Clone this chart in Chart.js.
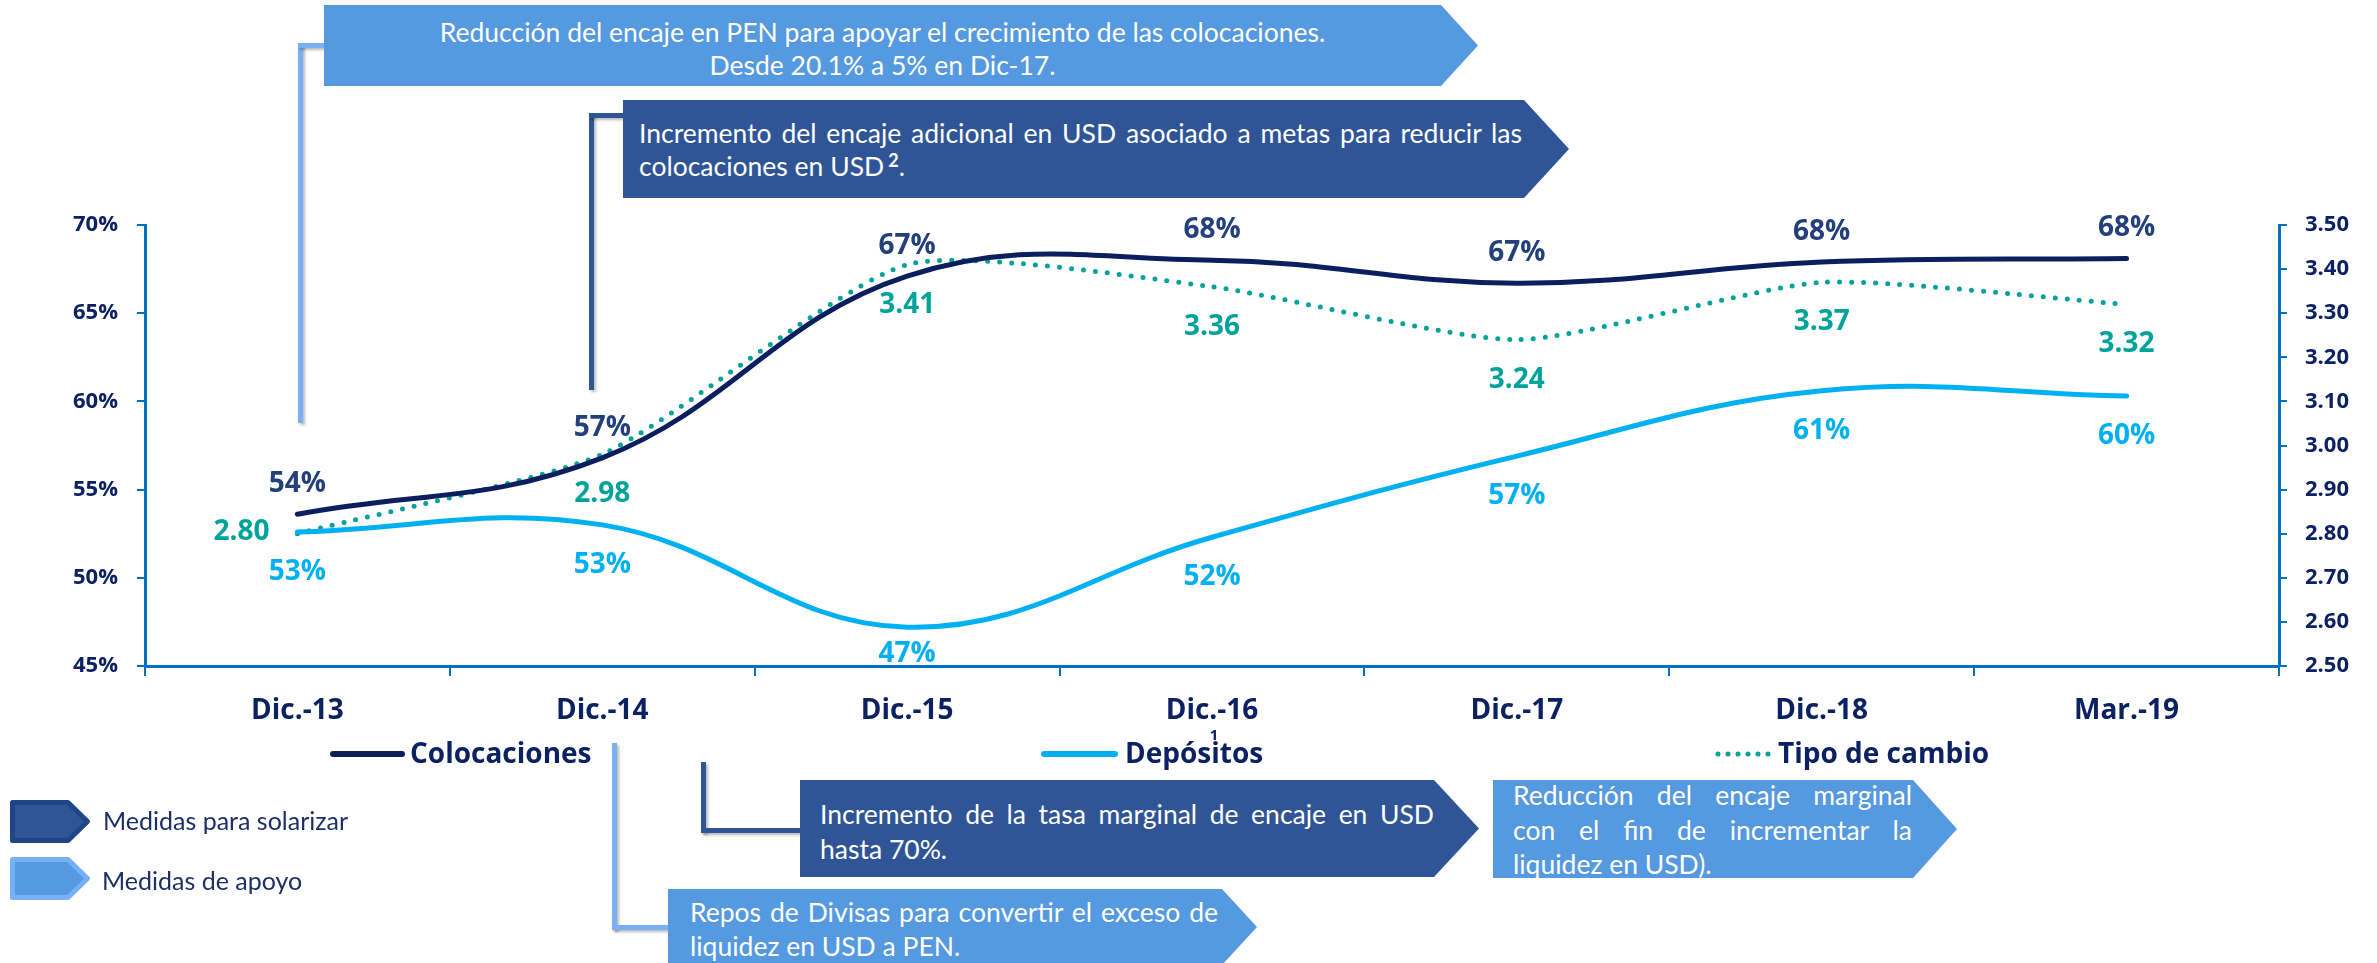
<!DOCTYPE html>
<html>
<head>
<meta charset="utf-8">
<script src="https://cdn.jsdelivr.net/npm/chart.js@4.4.1/dist/chart.umd.min.js"></script>
<style>
html,body{margin:0;padding:0;background:#fff;}
#wrap{position:relative;width:2377px;height:963px;overflow:hidden;background:#fff;}
#c{position:absolute;left:0;top:0;}
.box{position:absolute;color:#fff;font-family:Lato,"Open Sans",sans-serif;font-size:26.5px;box-sizing:border-box;white-space:nowrap;}
.light{background:#5599e0;}
.dark{background:#2f5597;}
.j{text-align:justify;text-align-last:justify;}
.conn{position:absolute;box-shadow:2px 2px 3px rgba(0,0,0,0.28);}
.cl{background:#78b0f5;}
.cd{background:#2f5597;}
.leg{position:absolute;font-family:Lato,"Open Sans",sans-serif;font-size:25px;color:#1c2f66;white-space:nowrap;}
</style>
</head>
<body>
<div id="wrap">
<canvas id="c" width="2377" height="963"></canvas>

<!-- connectors -->
<div class="conn cl" style="left:298px;top:43px;width:5px;height:380px;"></div>
<div class="conn cl" style="left:298px;top:43px;width:27px;height:5px;"></div>
<div class="conn cd" style="left:589px;top:113px;width:5px;height:277px;"></div>
<div class="conn cd" style="left:589px;top:113px;width:35px;height:5px;"></div>
<div class="conn cd" style="left:701px;top:762px;width:5px;height:71px;"></div>
<div class="conn cd" style="left:701px;top:828px;width:100px;height:5px;"></div>
<div class="conn cl" style="left:612px;top:743px;width:5px;height:187px;"></div>
<div class="conn cl" style="left:612px;top:925px;width:58px;height:5px;"></div>

<!-- annotation boxes -->
<div class="box light" style="left:324px;top:5px;width:1154px;height:81px;padding:0 37px 0 0;line-height:33px;padding-top:11px;text-align:center;clip-path:polygon(0 0,calc(100% - 37px) 0,100% 50%,calc(100% - 37px) 100%,0 100%);">
<div>Reducción del encaje en PEN para apoyar el crecimiento de las colocaciones.</div>
<div>Desde 20.1% a 5% en Dic-17.</div>
</div>

<div class="box dark" style="left:623px;top:100px;width:946px;height:98px;padding:17px 47px 0 16px;line-height:33px;clip-path:polygon(0 0,calc(100% - 45px) 0,100% 50%,calc(100% - 45px) 100%,0 100%);">
<div class="j">Incremento del encaje adicional en USD asociado a metas para reducir las</div>
<div>colocaciones en USD<b style="font-size:18px;position:relative;top:-9px;padding-left:4px;">2</b>.</div>
</div>

<div class="box dark" style="left:800px;top:780px;width:679px;height:97px;padding:17px 45px 0 20px;line-height:35px;clip-path:polygon(0 0,calc(100% - 45px) 0,100% 50%,calc(100% - 45px) 100%,0 100%);">
<div class="j">Incremento de la tasa marginal de encaje en USD</div>
<div>hasta 70%.</div>
</div>

<div class="box light" style="left:1493px;top:780px;width:464px;height:98px;padding:0 45px 0 20px;line-height:34.5px;clip-path:polygon(0 0,calc(100% - 44px) 0,100% 50%,calc(100% - 44px) 100%,0 100%);">
<div style="position:relative;top:-2px;">
<div class="j">Reducción del encaje marginal</div>
<div class="j">con el fin de incrementar la</div>
<div>liquidez en USD).</div>
</div>
</div>

<div class="box light" style="left:668px;top:889px;width:589px;height:76px;padding:6px 39px 0 22px;line-height:34px;clip-path:polygon(0 0,calc(100% - 35px) 0,100% 50%,calc(100% - 35px) 100%,0 100%);">
<div class="j">Repos de Divisas para convertir el exceso de</div>
<div>liquidez en USD a PEN.</div>
</div>

<!-- measures legend -->
<svg style="position:absolute;left:8px;top:798px;" width="86" height="48">
<polygon points="4.5,4.5 60,4.5 79.5,23.5 60,42.5 4.5,42.5" fill="#2f5597" stroke="#1f4586" stroke-width="5" stroke-linejoin="round"/>
</svg>
<div class="leg" style="left:103px;top:805px;line-height:30px;">Medidas para solarizar</div>
<svg style="position:absolute;left:8px;top:855px;" width="86" height="48">
<polygon points="4.5,4.5 60,4.5 79.5,23.5 60,42.5 4.5,42.5" fill="#5599e0" stroke="#76b0f7" stroke-width="5" stroke-linejoin="round"/>
</svg>
<div class="leg" style="left:102px;top:865px;line-height:30px;">Medidas de apoyo</div>
</div>

<script>
// ---- data ----
const categories = ['Dic.-13','Dic.-14','Dic.-15','Dic.-16','Dic.-17','Dic.-18','Mar.-19'];
const colocaciones = [53.6, 56.8, 67.1, 68.0, 66.7, 67.9, 68.1];
const depositos = [52.6, 53.0, 47.2, 52.3, 56.9, 60.6, 60.3];
const tipoCambio = [2.80, 2.98, 3.41, 3.36, 3.24, 3.37, 3.32];
const seriesNames = ['Colocaciones', 'Depósitos', 'Tipo de cambio'];
const leftTicks = [45, 50, 55, 60, 65, 70];
const rightTicks = [2.5, 2.6, 2.7, 2.8, 2.9, 3.0, 3.1, 3.2, 3.3, 3.4, 3.5];

const NAVY = '#0c2163';
const FONT = '"Open Sans", "DejaVu Sans", sans-serif';

const valueLabels = {
  id: 'valueLabels',
  afterDatasetsDraw(chart) {
    const ctx = chart.ctx;
    const area = chart.chartArea;
    ctx.save();
    ctx.font = 'bold 28px ' + FONT;
    ctx.textAlign = 'center';
    ctx.textBaseline = 'middle';
    chart.data.datasets.forEach((ds, di) => {
      const meta = chart.getDatasetMeta(di);
      meta.data.forEach((pt, i) => {
        const v = ds.data[i];
        const txt = ds.fmt(v);
        let x = pt.x, y = pt.y + ds.labelDy;
        if (ds.firstLeft && i === 0) { x = pt.x - 56; y = pt.y - 2; }
        y = Math.min(y, area.bottom - 12);
        ctx.fillStyle = ds.labelColor;
        ctx.fillText(txt, x, y);
      });
    });
    ctx.restore();
  }
};

const seriesLegend = {
  id: 'seriesLegend',
  afterDraw(chart) {
    const ctx = chart.ctx;
    const pos = [[333, 402, 410], [1044, 1115, 1125], [1718, 1770, 1778]];
    const y = 754;
    ctx.save();
    chart.data.datasets.forEach((ds, i) => {
      const p = pos[i];
      ctx.beginPath();
      ctx.strokeStyle = ds.borderColor;
      ctx.lineWidth = ds.borderDash.length ? 5 : 6;
      ctx.lineCap = 'round';
      ctx.setLineDash(ds.borderDash.length ? [0, 10] : []);
      ctx.moveTo(p[0], y);
      ctx.lineTo(p[1], y);
      ctx.stroke();
      ctx.setLineDash([]);
      ctx.fillStyle = NAVY;
      ctx.font = 'bold 28px ' + FONT;
      ctx.textAlign = 'left';
      ctx.textBaseline = 'middle';
      ctx.fillText(ds.label, p[2], y + 1);
    });
    ctx.font = 'bold 15px ' + FONT;
    ctx.textAlign = 'center';
    ctx.fillText('1', 1214, 736);
    ctx.restore();
  }
};

const axisColor = '#0070c0';

new Chart(document.getElementById('c'), {
  type: 'line',
  data: {
    labels: categories,
    datasets: [
      {
        label: seriesNames[0], data: colocaciones, yAxisID: 'y',
        borderColor: '#0b1f5e', borderWidth: 5, borderDash: [], tension: 0.4,
        pointRadius: 0, fill: false, borderCapStyle: 'round',
        labelColor: '#24407c', labelDy: -30, fmt: v => Math.round(v) + '%'
      },
      {
        label: seriesNames[1], data: depositos, yAxisID: 'y',
        borderColor: '#00b0f0', borderWidth: 5, borderDash: [], tension: 0.4,
        pointRadius: 0, fill: false, borderCapStyle: 'round',
        labelColor: '#00b0f0', labelDy: 40, fmt: v => Math.round(v) + '%'
      },
      {
        label: seriesNames[2], data: tipoCambio, yAxisID: 'y1',
        borderColor: '#00a19a', borderWidth: 5, borderDash: [0, 12], tension: 0.2,
        borderCapStyle: 'round', pointRadius: 0, fill: false,
        labelColor: '#00a39b', labelDy: 40, firstLeft: true, fmt: v => v.toFixed(2)
      }
    ]
  },
  options: {
    responsive: false,
    animation: false,
    devicePixelRatio: 1,
    layout: { padding: { top: 225, left: 0, right: 0, bottom: 0 } },
    plugins: { legend: { display: false }, tooltip: { enabled: false } },
    scales: {
      x: {
        offset: true,
        grid: { offset: true, drawOnChartArea: false, drawTicks: true, tickLength: 10, color: axisColor, lineWidth: 2 },
        border: { color: axisColor, width: 3 },
        ticks: { color: NAVY, font: { family: FONT, size: 28, weight: 'bold' }, padding: 18, maxRotation: 0 },
        afterFit(s) { s.height = 963 - 666; }
      },
      y: {
        position: 'left', min: 45, max: 70,
        afterBuildTicks(s) { s.ticks = leftTicks.map(v => ({ value: v })); },
        grid: { drawOnChartArea: false, drawTicks: true, tickLength: 8, color: axisColor, lineWidth: 2 },
        border: { color: axisColor, width: 3 },
        ticks: { color: NAVY, font: { family: FONT, size: 22, weight: 'bold' }, padding: 19, callback: v => v + '%' },
        afterFit(s) { s.width = 145; }
      },
      y1: {
        position: 'right', min: 2.5, max: 3.5,
        afterBuildTicks(s) { s.ticks = rightTicks.map(v => ({ value: v })); },
        grid: { drawOnChartArea: false, drawTicks: true, tickLength: 8, color: axisColor, lineWidth: 2 },
        border: { color: axisColor, width: 3 },
        ticks: { color: NAVY, font: { family: FONT, size: 22, weight: 'bold' }, padding: 18, callback: v => Number(v).toFixed(2) },
        afterFit(s) { s.width = 2377 - 2279; }
      }
    }
  },
  plugins: [valueLabels, seriesLegend]
});
</script>
</body>
</html>
